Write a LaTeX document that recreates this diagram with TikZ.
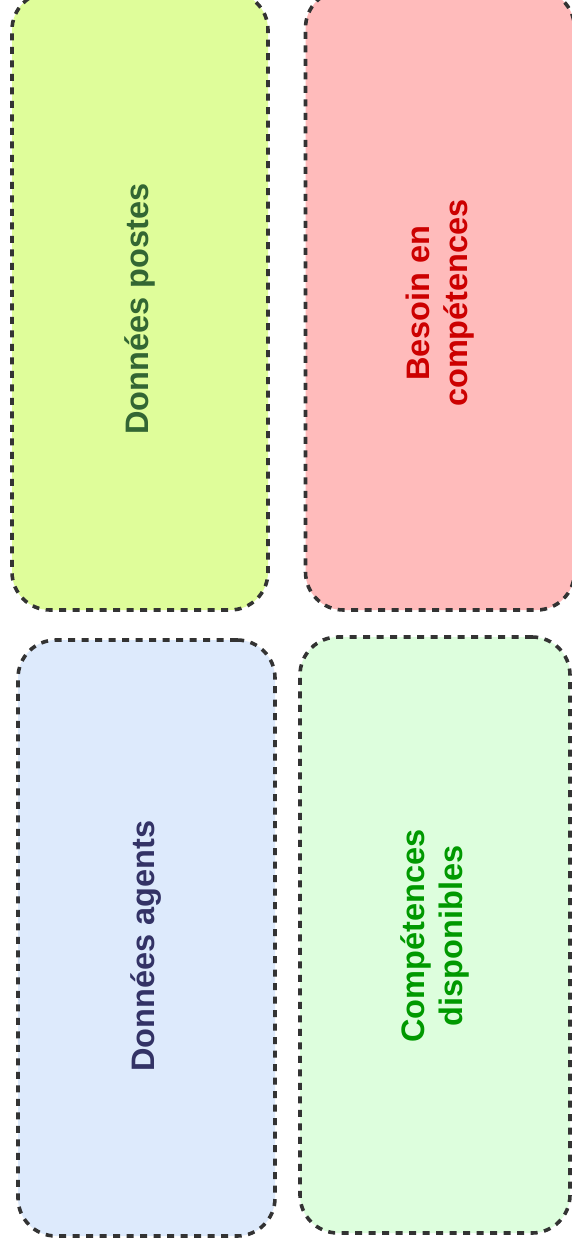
\documentclass[tikz,border=0pt]{standalone}
\usepackage{fontspec}
\setmainfont{Liberation Sans}
\definecolor{fillA}{HTML}{DFFD9A}
\definecolor{fillB}{HTML}{FFBBBB}
\definecolor{fillC}{HTML}{DDEAFC}
\definecolor{fillD}{HTML}{DDFEDD}
\definecolor{edgecol}{HTML}{333333}
\definecolor{txtA}{HTML}{336633}
\definecolor{txtB}{HTML}{CC0000}
\definecolor{txtC}{HTML}{333366}
\definecolor{txtD}{HTML}{009900}
\tikzset{
  panel/.style={draw=edgecol, line width=3.6pt, dash pattern=on 7pt off 6.5pt,
    rounded corners=38pt, inner sep=0pt, minimum width=#1},
  lbl/.style={rotate=90, font=\bfseries\fontsize{32.5}{38}\selectfont, align=center, inner sep=0pt}
}
\begin{document}
\begin{tikzpicture}[x=1pt,y=-1pt]
\useasboundingbox (0,0) rectangle (572,1250);
\clip (0,0) rectangle (572,1250);
\fill[white] (0,0) rectangle (572,1250);
\node[panel=256pt, fill=fillA, minimum height=618pt] (postes) at (140,301) {};
\node[panel=269pt, fill=fillB, minimum height=620pt] (besoin) at (440,300) {};
\node[panel=257pt, fill=fillC, minimum height=596pt] (agents) at (146.5,938) {};
\node[panel=270pt, fill=fillD, minimum height=596pt] (dispo) at (435,935) {};
\node[lbl, text=txtA] (tpostes) at (140,309) {Données postes};
\node[lbl, text=txtB] (tbesoin) at (440,303) {Besoin en\\compétences};
\node[lbl, text=txtC] (tagents) at (146,946) {Données agents};
\node[lbl, text=txtD] (tdispo) at (435,936) {Compétences\\disponibles};
\end{tikzpicture}
\end{document}
